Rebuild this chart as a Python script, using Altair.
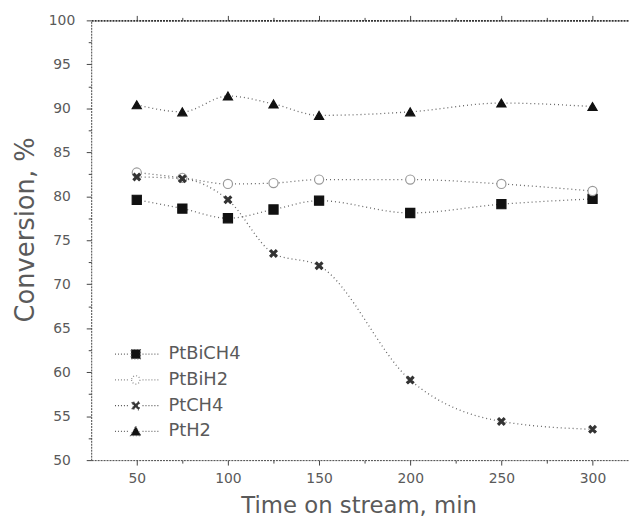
import altair as alt
import pandas as pd

times = [50, 75, 100, 125, 150, 200, 250, 300]
series_names = ["PtBiCH4", "PtBiH2", "PtCH4", "PtH2"]
pt_bi_ch4 = [79.6, 78.6, 77.5, 78.5, 79.5, 78.1, 79.1, 79.7]
pt_bi_h2 = [82.7, 82.1, 81.4, 81.5, 81.9, 81.9, 81.4, 80.6]
pt_ch4 = [82.2, 82.0, 79.6, 73.5, 72.1, 59.1, 54.4, 53.5]
pt_h2 = [90.4, 89.6, 91.4, 90.5, 89.2, 89.6, 90.6, 90.2]

x_major = [50, 100, 150, 200, 250, 300]
x_minor = [75, 125, 175, 225, 275]
y_major = [50, 55, 60, 65, 70, 75, 80, 85, 90, 95, 100]
y_minor = [52.5, 57.5, 62.5, 67.5, 72.5, 77.5, 82.5, 87.5, 92.5, 97.5]

rows = []
for name, vals in zip(series_names, [pt_bi_ch4, pt_bi_h2, pt_ch4, pt_h2]):
    for t, v in zip(times, vals):
        rows.append({"time": t, "conv": v, "series": name})
df = pd.DataFrame(rows)

FONT = "DejaVu Sans"
TXT = "#5a5a5a"
AX = "#444444"

xs = alt.Scale(domain=[25, 320], nice=False, zero=False)
ys = alt.Scale(domain=[50, 100], nice=False, zero=False)

star = ("M-0.8,-0.5L-0.5,-0.8L0,-0.3L0.5,-0.8L0.8,-0.5L0.3,0L0.8,0.5L0.5,0.8"
        "L0,0.3L-0.5,0.8L-0.8,0.5L-0.3,0Z")
point_shapes = ["square", "circle", star, "triangle-up"]

# legend symbols: dotted line segment through the marker
seg = "M-4,0L-1.3,0M1.3,0L4.6,0"
leg_shapes = [
    seg + "M-0.9,-0.9L0.9,-0.9L0.9,0.9L-0.9,0.9Z",
    seg + "M-0.8,0A0.8,0.8 0 1,0 0.8,0A0.8,0.8 0 1,0 -0.8,0Z",
    seg + star,
    seg + "M0,-1L1,0.8L-1,0.8Z",
]

x_axis = alt.Axis(values=x_major, title="Time on stream, min", titleFontSize=23,
                  titleFontWeight="normal", titleColor=TXT, titleFont=FONT,
                  titleX=270, titleY=53, titleBaseline="alphabetic",
                  labelFont=FONT, labelFontSize=14, labelColor=TXT, labelPadding=7,
                  tickSize=5, tickColor=AX, domainColor=AX, domainDash=[2, 1],
                  grid=False)
y_axis = alt.Axis(values=y_major, title="Conversion, %", titleFontSize=26,
                  titleFontWeight="normal", titleColor=TXT, titleFont=FONT,
                  titleX=-58, titleY=211, titleBaseline="alphabetic", titleAngle=-90,
                  labelFont=FONT, labelFontSize=14, labelColor=TXT, labelPadding=25,
                  labelAlign="center", tickSize=5, tickColor=AX, domainColor=AX,
                  domainDash=[2, 1], grid=False)

lines = alt.Chart(df).mark_line(interpolate="monotone", strokeDash=[1, 3],
                                color="#666666", strokeWidth=1.3).encode(
    x=alt.X("time:Q", scale=xs, axis=x_axis),
    y=alt.Y("conv:Q", scale=ys, axis=y_axis),
    detail="series:N",
)

points = alt.Chart(df).mark_point(filled=True, size=85, opacity=1, strokeWidth=1.2).encode(
    x=alt.X("time:Q", scale=xs, axis=None),
    y=alt.Y("conv:Q", scale=ys, axis=None),
    shape=alt.Shape("series:N", scale=alt.Scale(domain=series_names, range=point_shapes),
                    legend=None),
    fill=alt.Fill("series:N", scale=alt.Scale(domain=series_names,
                  range=["#111111", "#ffffff", "#333333", "#111111"]), legend=None),
    stroke=alt.Stroke("series:N", scale=alt.Scale(domain=series_names,
                      range=["#111111", "#999999", "#333333", "#111111"]), legend=None),
)

legend = alt.Legend(title=None, orient="none", legendX=36, legendY=328,
                    labelFont=FONT, labelFontSize=18, labelColor=TXT,
                    symbolSize=110, rowPadding=8, labelOffset=24,
                    symbolDash=[1, 2], symbolStrokeWidth=1.2)

legend_layer = alt.Chart(df).mark_point(filled=True, size=110, opacity=1, clip=True).encode(
    x=alt.value(-200),
    y=alt.value(-200),
    shape=alt.Shape("series:N", scale=alt.Scale(domain=series_names, range=leg_shapes),
                    legend=legend),
    fill=alt.Fill("series:N", scale=alt.Scale(domain=series_names,
                  range=["#111111", "#ffffff", "#333333", "#111111"]), legend=legend),
    stroke=alt.Stroke("series:N", scale=alt.Scale(domain=series_names,
                      range=["#666666", "#888888", "#555555", "#666666"]), legend=legend),
)

top_axis = alt.Chart(df).mark_point(opacity=0).encode(
    x=alt.X("time:Q", scale=xs, axis=alt.Axis(orient="top", values=x_major, labels=False,
            title=None, tickSize=5, tickColor=AX, domainColor="#333333", domainWidth=1.6,
            domainDash=[2, 1], grid=False)),
    y=alt.Y("conv:Q", scale=ys, axis=None),
)

top_minor = alt.Chart(df).mark_point(opacity=0).encode(
    x=alt.X("time:Q", scale=xs, axis=alt.Axis(orient="top", values=x_minor, labels=False,
            title=None, tickSize=3, tickColor=AX, domain=False, grid=False)),
    y=alt.Y("conv:Q", scale=ys, axis=None),
)

minor = alt.Chart(df).mark_point(opacity=0).encode(
    x=alt.X("time:Q", scale=xs, axis=alt.Axis(orient="bottom", values=x_minor, labels=False,
            title=None, tickSize=3, tickColor=AX, domain=False, grid=False)),
    y=alt.Y("conv:Q", scale=ys, axis=alt.Axis(orient="left", values=y_minor, labels=False,
            title=None, tickSize=3, tickColor=AX, domain=False, grid=False)),
)

chart = alt.layer(lines, points, legend_layer, top_axis, top_minor, minor).resolve_axis(
    x="independent", y="independent"
).resolve_scale(
    shape="independent", fill="independent", stroke="independent"
).properties(
    width=543, height=444,
    autosize=alt.AutoSizeParams(type="none"),
    padding={"left": 84, "top": 10, "right": 0, "bottom": 62},
).configure_view(stroke=None)

chart.save("out.html", embed_options={"renderer": "svg", "actions": False})
